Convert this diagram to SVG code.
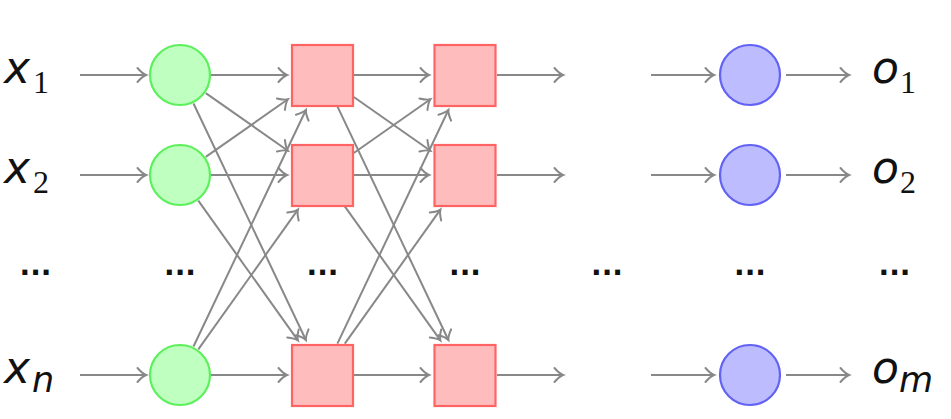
<svg xmlns="http://www.w3.org/2000/svg" width="951" height="419" viewBox="0 0 951 419">
<style>
.c{stroke:#888888;stroke-width:2;fill:none;marker-end:url(#ah)}
.g{fill:#bfffbf;stroke:#5cf05c;stroke-width:2.2}
.r{fill:#ffbcbc;stroke:#ff6464;stroke-width:2.2}
.b{fill:#bcbcff;stroke:#6262f4;stroke-width:2.2}
.v{font-family:"DejaVu Sans",sans-serif;font-style:oblique;font-size:44px;fill:#111}
.s{font-family:"Liberation Serif",serif;font-size:32px;fill:#111}
.si{font-family:"DejaVu Sans",sans-serif;font-style:oblique;font-size:35px;fill:#111}
.d{font-family:"DejaVu Sans",sans-serif;font-weight:bold;font-size:28px;fill:#111;text-anchor:middle}
</style>
<defs>
<marker id="ah" markerUnits="userSpaceOnUse" markerWidth="20" markerHeight="20" viewBox="-10 -10 20 20" refX="0" refY="0" orient="auto">
<path d="M-8.5,-7 Q-3.5,-1.3 0,0 Q-3.5,1.3 -8.5,7" fill="none" stroke="#888888" stroke-width="2" stroke-linecap="round"/>
</marker>
</defs>
<g id="connectors">
<line class="c" x1="80" y1="75" x2="146" y2="75"/>
<line class="c" x1="80" y1="175" x2="146" y2="175"/>
<line class="c" x1="80" y1="375" x2="146" y2="375"/>
<line class="c" x1="211" y1="75" x2="287" y2="75"/>
<line class="c" x1="211" y1="175" x2="287" y2="175"/>
<line class="c" x1="211" y1="375" x2="287" y2="375"/>
<line class="c" x1="205.8" y1="93.1" x2="287.9" y2="150.7"/>
<line class="c" x1="205.8" y1="156.9" x2="287.9" y2="99.3"/>
<line class="c" x1="198.3" y1="200.7" x2="297.9" y2="340.4"/>
<line class="c" x1="198.3" y1="349.3" x2="297.9" y2="209.6"/>
<line class="c" x1="193.5" y1="103.5" x2="305.9" y2="340"/>
<line class="c" x1="193.5" y1="346.5" x2="305.9" y2="110"/>
<line class="c" x1="354" y1="75" x2="429" y2="75"/>
<line class="c" x1="354" y1="175" x2="429" y2="175"/>
<line class="c" x1="354" y1="375" x2="429" y2="375"/>
<line class="c" x1="353.8" y1="97" x2="430.4" y2="150.7"/>
<line class="c" x1="353.8" y1="153" x2="430.4" y2="99.3"/>
<line class="c" x1="344.8" y1="206.3" x2="440.4" y2="340.4"/>
<line class="c" x1="344.8" y1="343.7" x2="440.4" y2="209.6"/>
<line class="c" x1="337.4" y1="106.4" x2="448.4" y2="340"/>
<line class="c" x1="337.4" y1="343.6" x2="448.4" y2="110"/>
<line class="c" x1="497" y1="75" x2="563" y2="75"/>
<line class="c" x1="497" y1="175" x2="563" y2="175"/>
<line class="c" x1="497" y1="375" x2="563" y2="375"/>
<line class="c" x1="651" y1="75" x2="714" y2="75"/>
<line class="c" x1="651" y1="175" x2="714" y2="175"/>
<line class="c" x1="651" y1="375" x2="714" y2="375"/>
<line class="c" x1="786" y1="75" x2="849" y2="75"/>
<line class="c" x1="786" y1="175" x2="849" y2="175"/>
<line class="c" x1="786" y1="375" x2="849" y2="375"/>
</g>
<g id="in1"><text x="4" y="83" class="v">x</text><text x="33" y="93" class="s">1</text></g>
<g id="in2"><text x="4" y="183" class="v">x</text><text x="33" y="193" class="s">2</text></g>
<g id="inn"><text x="4" y="383" class="v">x</text><text x="32" y="392" class="si">n</text></g>
<g id="h1_1"><circle class="g" cx="180" cy="75" r="30"/></g>
<g id="h1_2"><circle class="g" cx="180" cy="175" r="30"/></g>
<g id="h1_n"><circle class="g" cx="180" cy="375" r="30"/></g>
<g id="h2_1"><rect class="r" x="292" y="45" width="61" height="61"/></g>
<g id="h2_2"><rect class="r" x="292" y="145" width="61" height="61"/></g>
<g id="h2_n"><rect class="r" x="292" y="345" width="61" height="61"/></g>
<g id="h3_1"><rect class="r" x="434.5" y="45" width="61" height="61"/></g>
<g id="h3_2"><rect class="r" x="434.5" y="145" width="61" height="61"/></g>
<g id="h3_n"><rect class="r" x="434.5" y="345" width="61" height="61"/></g>
<g id="out_1"><circle class="b" cx="750" cy="75" r="30"/></g>
<g id="out_2"><circle class="b" cx="750" cy="175" r="30"/></g>
<g id="out_m"><circle class="b" cx="750" cy="375" r="30"/></g>
<g id="o1"><text x="872" y="83" class="v">o</text><text x="900" y="93" class="s">1</text></g>
<g id="o2"><text x="872" y="183" class="v">o</text><text x="900" y="193" class="s">2</text></g>
<g id="om"><text x="872" y="383" class="v">o</text><text x="899" y="392" class="si">m</text></g>
<g id="dots">
<text x="35.5" y="275" class="d">...</text>
<text x="180" y="275" class="d">...</text>
<text x="322.5" y="275" class="d">...</text>
<text x="465" y="275" class="d">...</text>
<text x="607" y="275" class="d">...</text>
<text x="750" y="275" class="d">...</text>
<text x="894.5" y="275" class="d">...</text>
</g>
</svg>
